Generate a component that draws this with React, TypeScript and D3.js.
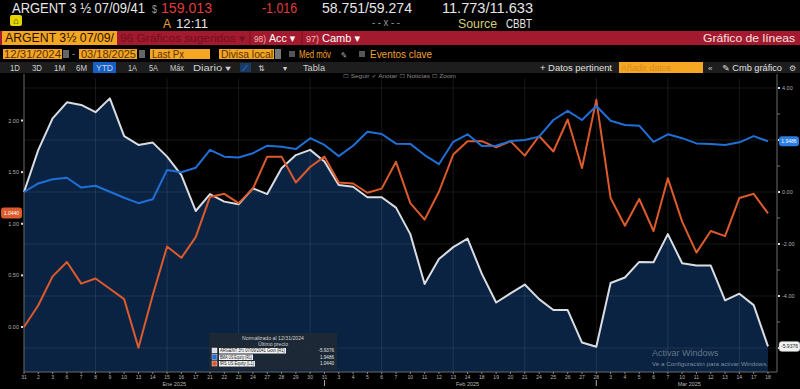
import * as d3 from 'd3';

// trading days shown on the x axis (normalized at 12/31/2024)
const dates = [
  '2024-12-31', '2025-01-02', '2025-01-03', '2025-01-06', '2025-01-07', '2025-01-08', '2025-01-09',
  '2025-01-10', '2025-01-13', '2025-01-14', '2025-01-15', '2025-01-16', '2025-01-17', '2025-01-21',
  '2025-01-22', '2025-01-23', '2025-01-24', '2025-01-27', '2025-01-28', '2025-01-29', '2025-01-30',
  '2025-01-31', '2025-02-03', '2025-02-04', '2025-02-05', '2025-02-06', '2025-02-07', '2025-02-10',
  '2025-02-11', '2025-02-12', '2025-02-13', '2025-02-14', '2025-02-18', '2025-02-19', '2025-02-20',
  '2025-02-21', '2025-02-24', '2025-02-25', '2025-02-26', '2025-02-27', '2025-02-28', '2025-03-03',
  '2025-03-04', '2025-03-05', '2025-03-06', '2025-03-07', '2025-03-10', '2025-03-11', '2025-03-12',
  '2025-03-13', '2025-03-14', '2025-03-17', '2025-03-18',
];

// ARGENT 3 1/2 07/09/2041 Govt (R1), % change
const argentValues = [
  0, 1.62, 2.83, 3.45, 3.35, 3.07, 3.6, 2.15, 1.81, 1.9, 1.36, 0.65, -0.73, -0.08,
  -0.37, -0.47, 0.14, -0.08, 0.91, 1.42, 1.62, 1.17, 0.27, 0.2, -0.2, -0.2, -0.6,
  -1.62, -3.54, -2.58, -2.12, -1.79, -3.15, -4.25, -3.9, -3.56, -4.12, -4.54, -4.54,
  -5.79, -5.95, -3.5, -3.29, -2.69, -2.7, -1.62, -2.74, -2.83, -2.83, -4.17, -3.91,
  -4.35, -5.94,
];

// BMA US Equity (R1)
const bmaValues = [
  0, 0.33, 0.49, 0.55, 0.17, 0.24, 0.01, -0.22, -0.43, -0.28, 0.85, 0.76, 0.93, 1.62,
  1.36, 1.33, 1.49, 1.78, 1.74, 1.65, 2.07, 1.81, 1.38, 1.78, 2.32, 2.23, 1.86, 1.85,
  1.42, 1.07, 1.93, 2.22, 1.77, 1.78, 1.96, 2.0, 2.13, 2.77, 3.12, 2.77, 3.31, 2.74,
  2.58, 2.55, 1.93, 2.22, 2.07, 1.87, 1.85, 1.81, 1.91, 2.15, 1.95,
];

// IRS US Equity (L1)
const irsValues = [
  0, 0.21, 0.49, 0.63, 0.42, 0.47, 0.37, 0.27, -0.2, 0.31, 0.78, 0.67, 0.87, 1.26,
  1.29, 1.2, 1.34, 1.65, 1.65, 1.4, 1.55, 1.65, 1.4, 1.39, 1.3, 1.34, 1.6, 1.2, 1.04,
  1.31, 1.67, 1.8, 1.8, 1.74, 1.8, 1.66, 1.85, 1.7, 2.01, 1.54, 2.2, 1.25, 0.98, 1.24,
  0.93, 1.44, 1.02, 0.72, 0.93, 0.88, 1.25, 1.29, 1.1,
];

const leftTicks = [0, 0.5, 1, 1.5, 2];
const rightTicks = [-6, -4, -2, 0, 2, 4];
const rightMinorTicks = [-5, -3, -1, 1, 3];
const monthNames = ['Ene', 'Feb', 'Mar'];

const legendNames = ['ARGENT 3½ 07/09/2041 Govt (R1)', 'BMA US Equity (R1)', 'IRS US Equity (L1)'];
const legendValues = ['-5.9376', '1.9486', '1.0440'];
const periodButtons = ['1D', '3D', '1M', '6M', 'YTD', '1A', '5A', 'Máx', 'Diario ▾'];

const FONT = "'Liberation Sans','DejaVu Sans',Arial,sans-serif";
const SMALL = "'Liberation Sans','DejaVu Sans',sans-serif";

const WHITE = '#d9dde2';
const BLUE = '#1f6fd6';
const ORANGE = '#dd5a2c';
const NAVY = '#0a2342';

// text squeezed into the width it has on the terminal screen
function T({ x, y, w, size, fill, children, anchor }: any) {
  return (
    <text
      x={x}
      y={y}
      fontSize={size}
      fill={fill}
      textLength={w}
      lengthAdjust='spacingAndGlyphs'
      textAnchor={anchor}
    >
      {children}
    </text>
  );
}

export default function App() {
  const width = 800;
  const height = 389;
  const plot = { left: 24, right: 777, top: 78, bottom: 372 };

  const parse = d3.timeParse('%Y-%m-%d');
  const x = d3.scalePoint<string>().domain(dates).range([24, 768]);
  const yR = d3.scaleLinear().domain([-6, 4]).range([348, 88]);
  const yL = d3.scaleLinear().domain([0, 2]).range([327, 120.5]);

  const xi = (i: number) => x(dates[i]) as number;

  const area = d3
    .area<number>()
    .x((d, i) => xi(i))
    .y0(plot.bottom)
    .y1((d) => yR(d));
  const lineR = d3
    .line<number>()
    .x((d, i) => xi(i))
    .y((d) => yR(d));
  const lineL = d3
    .line<number>()
    .x((d, i) => xi(i))
    .y((d) => yL(d));

  // month groups for the lower labels
  const byMonth = d3.groups(
    dates
      .map((d, i) => ({ d, i, m: (parse(d) as Date).getMonth(), y: (parse(d) as Date).getFullYear() }))
      .filter((o) => o.y === 2025),
    (o) => o.m,
  );

  const last = dates.length - 1;
  const periodX = [10, 32, 54, 76, 96, 128, 149, 170, 193];
  const periodW = [10, 10, 11, 11, 17, 9, 9, 14, 38];

  return (
    <svg
      width={width}
      height={height}
      style={{ position: 'absolute', left: 0, top: 0, display: 'block', background: '#000' }}
    >
      <rect width={width} height={height} fill='#000' />

      {/* --- top ticker rows --- */}
      <g fontFamily={FONT}>
        <T x={12} y={13} w={133} size={14} fill='#e6e6e6'>ARGENT 3 ½ 07/09/41</T>
        <T x={152} y={13} w={5} size={11} fill='#9a9a9a'>$</T>
        <T x={161} y={13} w={51} size={14} fill='#e23b3b'>159.013</T>
        <T x={262} y={13} w={35} size={14} fill='#e23b3b'>-1.016</T>
        <T x={322} y={13} w={90} size={14} fill='#e6e6e6'>58.751/59.274</T>
        <T x={442} y={13} w={91} size={14} fill='#e6e6e6'>11.773/11.633</T>
        <rect x={10} y={15} width={12} height={11} rx={2} fill='#e6d400' />
        <text x={16} y={24} fill='#000' fontSize={9} textAnchor='middle'>⌂</text>
        <T x={163} y={28} w={8} size={12} fill='#f0a030'>A</T>
        <T x={176} y={28} w={32} size={12} fill='#e6e6e6'>12:11</T>
        <T x={372} y={26} w={28} size={10} fill='#9a9a9a'>- - x - -</T>
        <T x={458} y={28} w={39} size={12} fill='#d6cd78'>Source</T>
        <T x={506} y={28} w={26} size={12} fill='#e6e6e6'>CBBT</T>
      </g>

      {/* red toolbar */}
      <rect x={0} y={31} width={width} height={14} fill='#a3192d' />
      <rect x={2} y={31} width={115} height={14} fill='#f5a623' />
      <g fontFamily={FONT}>
        <T x={5} y={42} w={109} size={12} fill='#2a1400'>ARGENT 3½ 07/09/</T>
        <T x={120} y={42} w={125} size={11} fill='#6e1020'>96 Gráficos sugeridos ▾</T>
        <line x1={250} x2={250} y1={31} y2={45} stroke='#7a0f1f' />
        <T x={254} y={42} w={12} size={9} fill='#f0b8b8'>98)</T>
        <T x={269} y={42} w={26} size={11} fill='#fff'>Acc ▾</T>
        <line x1={302} x2={302} y1={31} y2={45} stroke='#7a0f1f' />
        <T x={306} y={42} w={13} size={9} fill='#f0b8b8'>97)</T>
        <T x={322} y={42} w={38} size={11} fill='#fff'>Camb ▾</T>
        <T x={703} y={42} w={92} size={11} fill='#f6e0e0'>Gráfico de líneas</T>
      </g>

      {/* date / field row */}
      <g fontFamily={FONT}>
        <rect x={3} y={49} width={59} height={10} fill='#f5a623' />
        <T x={4} y={58} w={57} size={10} fill='#5a3000'>12/31/2024</T>
        <rect x={63} y={50} width={6} height={8} fill='#666' />
        <text x={72} y={57} fill='#aaa' fontSize={9}>-</text>
        <rect x={79} y={49} width={58} height={10} fill='#f5a623' />
        <T x={81} y={58} w={55} size={10} fill='#5a3000'>03/18/2025</T>
        <rect x={139} y={50} width={6} height={8} fill='#666' />
        <rect x={150} y={49} width={60} height={10} fill='#f5a623' />
        <T x={152} y={58} w={32} size={10} fill='#5a3000'>Last Px</T>
        <rect x={219} y={49} width={55} height={10} fill='#f5a623' />
        <T x={221} y={58} w={52} size={10} fill='#5a3000'>Divisa local</T>
        <rect x={275} y={49} width={6} height={10} fill='#777' />
        <rect x={289} y={51} width={6} height={6} fill='#555' />
        <T x={299} y={58} w={32} size={10} fill='#f0a030'>Med móv</T>
        <T x={341} y={58} w={6} size={8} fill='#bbb'>✎</T>
        <rect x={359} y={51} width={6} height={6} fill='#555' />
        <T x={370} y={58} w={62} size={10} fill='#f0a030'>Eventos clave</T>
      </g>

      {/* period bar */}
      <rect x={0} y={62} width={width} height={11} fill='#1d1d1d' />
      <rect x={93} y={62} width={23} height={11} fill='#1560c8' />
      <g fontFamily={FONT} fill='#cfcfcf'>
        {periodButtons.map((p, i) => (
          <T key={p} x={periodX[i]} y={71} w={periodW[i]} size={8.5} fill='#cfcfcf'>{p}</T>
        ))}
        <rect x={240} y={63} width={11} height={9} fill='#1a3a66' />
        <text x={242} y={71} fill='#5aa0ff' fontSize={8}>⟋</text>
        <text x={258} y={71} fontSize={8}>⇅</text>
        <text x={283} y={71} fontSize={8}>▾</text>
        <T x={303} y={71} w={22} size={8.5} fill='#cfcfcf'>Tabla</T>
        <T x={540} y={71} w={72} size={8.5} fill='#e0e0e0'>+ Datos pertinent</T>
        <rect x={619} y={62} width={84} height={11} fill='#f5a623' />
        <T x={621} y={71} w={50} size={8.5} fill='#d88a20'>Añadir datos</T>
        <text x={708} y={71} fontSize={8}>«</text>
        <T x={722} y={71} w={60} size={8.5} fill='#e0e0e0'>✎ Cmb gráfico</T>
        <text x={789} y={71} fontSize={8}>⚙</text>
      </g>

      {/* --- chart --- */}
      <path d={area(argentValues) as string} fill={NAVY} />

      {/* grid */}
      <g stroke='#ffffff' strokeOpacity={0.09} strokeWidth={1}>
        {rightTicks.map((t) => (
          <line key={t} x1={plot.left} x2={plot.right} y1={yR(t)} y2={yR(t)} />
        ))}
        {dates
          .filter((d, i) => i % 5 === 0 && i > 0)
          .map((d) => (
            <line key={d} x1={x(d)} x2={x(d)} y1={plot.top} y2={plot.bottom} />
          ))}
      </g>

      {/* frame */}
      <g stroke='#6a6a6a' strokeWidth={1}>
        <line x1={plot.left} x2={plot.left} y1={plot.top - 4} y2={plot.bottom} />
        <line x1={plot.right} x2={plot.right} y1={plot.top - 4} y2={plot.bottom} />
        <line x1={plot.left} x2={plot.right} y1={plot.bottom} y2={plot.bottom} />
      </g>

      <g fontFamily={SMALL} fill='#8a8a8a'>
        <T x={343} y={78} w={113} size={5} fill='#8a8a8a'>☐ Seguir   ✓ Anotar   ☐ Noticias   ☐ Zoom</T>
      </g>

      {/* series */}
      <path d={lineR(argentValues) as string} fill='none' stroke={WHITE} strokeWidth={2} strokeLinejoin='round' />
      <path d={lineL(irsValues) as string} fill='none' stroke={ORANGE} strokeWidth={2} strokeLinejoin='round' />
      <path d={lineR(bmaValues) as string} fill='none' stroke={BLUE} strokeWidth={2} strokeLinejoin='round' />

      {/* left axis */}
      <g fontFamily={SMALL} fontSize={5.5} fill='#b0b0b0'>
        {leftTicks.map((t) => (
          <g key={t}>
            <rect x={plot.left - 3} y={yL(t) - 1} width={2} height={2} fill='#ddd' />
            <text x={plot.left - 5} y={yL(t) + 2} textAnchor='end'>{t.toFixed(2)}</text>
          </g>
        ))}
      </g>

      {/* right axis (labels under the value tags are hidden, as on screen) */}
      <g fontFamily={SMALL} fontSize={5.5} fill='#b0b0b0'>
        {rightTicks.map((t) => (
          <g key={t}>
            <rect x={plot.right + 1} y={yR(t) - 1} width={2} height={2} fill='#ddd' />
            {t !== 2 && t !== -6 && (
              <text x={plot.right + 5} y={yR(t) + 2}>{t.toFixed(2)}</text>
            )}
          </g>
        ))}
        {rightMinorTicks.map((t) => (
          <line key={t} x1={plot.right} x2={plot.right + 3} y1={yR(t)} y2={yR(t)} stroke='#777' />
        ))}
      </g>

      {/* bottom axis */}
      <g fontFamily={SMALL} fontSize={5} fill='#b8b8b8'>
        {dates.map((d, i) => (
          <g key={d}>
            <line x1={xi(i)} x2={xi(i)} y1={plot.bottom} y2={plot.bottom + 2} stroke='#888' />
            <text x={xi(i)} y={plot.bottom + 7} textAnchor='middle'>
              {d3.timeFormat('%-d')(parse(d) as Date)}
            </text>
          </g>
        ))}
        {byMonth.map(([m, items], k) => {
          const first = items[0].i;
          const lastI = items[items.length - 1].i;
          const cx = (xi(first === 1 ? 0 : first) + xi(lastI)) / 2;
          return (
            <g key={m}>
              <text x={cx} y={plot.bottom + 14} textAnchor='middle' fontSize={5.5}>
                {monthNames[k]} 2025
              </text>
              {k < byMonth.length - 1 && (
                <line x1={xi(lastI)} x2={xi(lastI)} y1={plot.bottom + 8} y2={plot.bottom + 14} stroke='#aaa' />
              )}
            </g>
          );
        })}
      </g>

      {/* value tags */}
      <g fontFamily={SMALL} fontSize={5}>
        <rect x={1} y={yL(irsValues[last]) - 6} width={21} height={11} rx={3} fill={ORANGE} />
        <text x={11.5} y={yL(irsValues[last]) + 1.5} textAnchor='middle' fill='#fff'>{legendValues[2]}</text>
        <rect x={779} y={yR(bmaValues[last]) - 5} width={20} height={10} rx={3} fill='#2a7de1' />
        <text x={789} y={yR(bmaValues[last]) + 2} textAnchor='middle' fill='#fff'>{legendValues[1]}</text>
        <rect x={779} y={yR(argentValues[last]) - 5} width={21} height={10} rx={3} fill='#f2f2f2' stroke='#999' strokeWidth={0.5} />
        <text x={789.5} y={yR(argentValues[last]) + 2} textAnchor='middle' fill='#222'>{legendValues[0]}</text>
      </g>

      {/* legend */}
      <g fontFamily={SMALL}>
        <rect x={209} y={333} width={128} height={37} fill='#1d2935' fillOpacity={0.95} />
        <T x={273} y={340} w={62} size={4.6} fill='#d0d0d0' anchor='middle'>Normalizado al 12/31/2024</T>
        <T x={273} y={346} w={30} size={4.6} fill='#d0d0d0' anchor='middle'>Último precio</T>
        {legendNames.map((name, i) => (
          <g key={name}>
            <rect x={212} y={348 + i * 6.5} width={5} height={5} fill={[WHITE, BLUE, ORANGE][i]} stroke='#fff' strokeWidth={0.4} />
            <rect x={219} y={348 + i * 6.5} width={[67, 34, 36][i]} height={5.5} fill='#f4f4f4' />
            <T x={220} y={352.3 + i * 6.5} w={[65, 32, 34][i]} size={4.6} fill='#111'>{name}</T>
            <text x={334} y={352.3 + i * 6.5} textAnchor='end' fill='#e0e0e0' fontSize={4.6}>{legendValues[i]}</text>
          </g>
        ))}
      </g>

      {/* windows watermark */}
      <text x={652} y={356} fontFamily={SMALL} fontSize={9} fill='#7f8c99' fillOpacity={0.8}>Activar Windows</text>
      <g fontFamily={SMALL}>
        <T x={652} y={366} w={116} size={5.2} fill='#7f8c99'>Ve a Configuración para activar Windows.</T>
      </g>
    </svg>
  );
}
